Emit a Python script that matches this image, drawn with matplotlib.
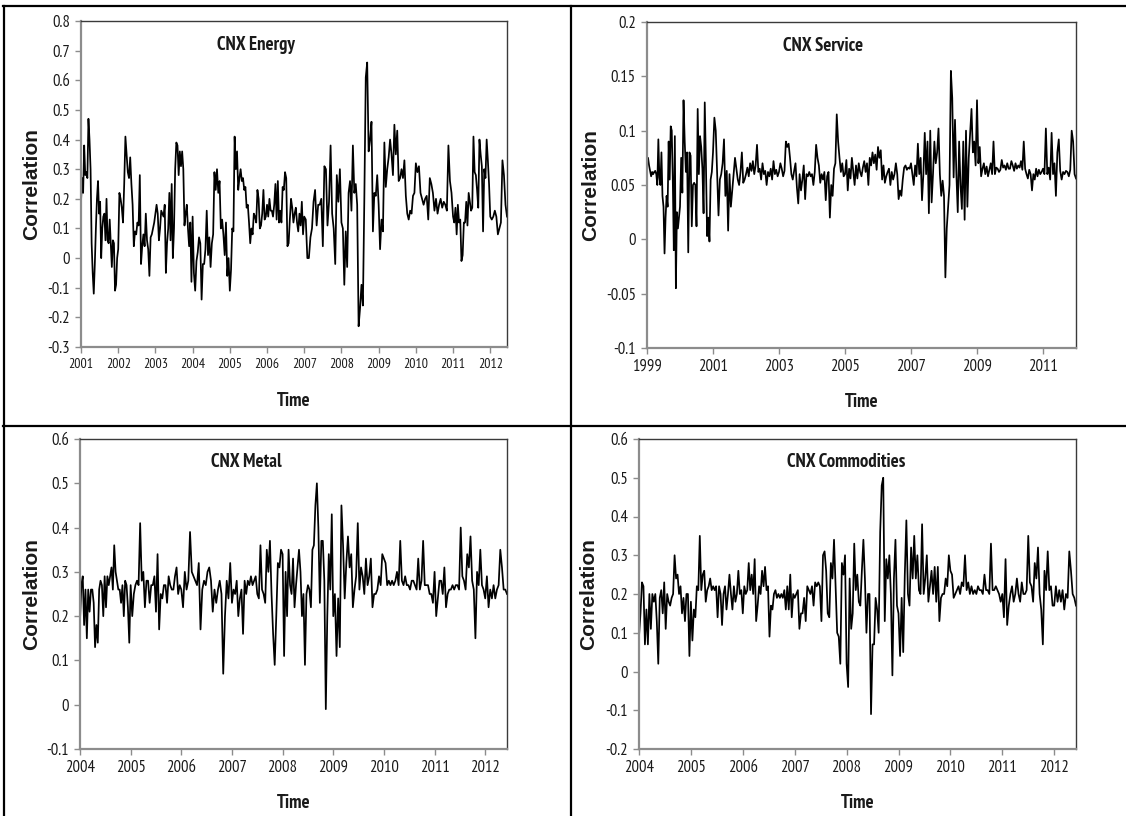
import numpy as np
import matplotlib
matplotlib.use("Agg")
import matplotlib.pyplot as plt
from matplotlib import font_manager
from matplotlib.lines import Line2D

# Fonts: the chart uses an Arial Narrow look; take a narrow family with a bold face if there is one
bold_ok = {f.name for f in font_manager.fontManager.ttflist if f.weight in (700, "bold")}
NARROW = None
for cand in ["Liberation Sans Narrow", "PT Sans Narrow", "Asap Condensed", "Encode Sans Condensed",
             "IBM Plex Sans Condensed"]:
    if cand in bold_ok:
        NARROW = cand
        break
WIDE = "Liberation Sans"
if NARROW:
    SIZES = dict(tick=12, tick_energy=10, title=13.5, xlabel=13.5)
else:
    NARROW = "Liberation Sans"
    SIZES = dict(tick=10, tick_energy=8, title=11, xlabel=11)
plt.rcParams["font.family"] = [NARROW, "DejaVu Sans"]

# ---------------- data (one list per year) ----------------
energy = [
    [0.19, 0.27, 0.22, 0.38, 0.28, 0.29, 0.27, 0.47, 0.40, 0.30, 0.05, -0.05, -0.12, -0.02, 0.10, 0.20, 0.26, 0.15,
     0.19, 0.00, 0.10, 0.14, 0.15, 0.06, 0.20, 0.06, 0.05, 0.13, 0.05, -0.03, 0.06, 0.05, -0.11, -0.09, 0.00],
    [0.03, 0.22, 0.20, 0.17, 0.12, 0.25, 0.41, 0.35, 0.29, 0.27, 0.34, 0.25, 0.18, 0.04, 0.09, 0.08, 0.12, 0.11,
     0.28, -0.02, 0.04, 0.08, 0.04, 0.15, 0.06, 0.03, -0.06, 0.07, 0.08, 0.10, 0.12],
    [0.15, 0.18, 0.15, 0.06, 0.10, 0.16, 0.15, 0.14, 0.18, -0.05, 0.05, 0.10, 0.22, 0.06, 0.25, 0.00, 0.10, 0.30,
     0.39, 0.38, 0.28, 0.36, 0.31, 0.36, 0.30, 0.11, 0.15, 0.18, 0.10, 0.04, 0.12, -0.08],
    [0.14, -0.05, -0.11, -0.01, 0.02, 0.07, 0.05, -0.14, -0.02, -0.02, 0.03, 0.16, 0.01, 0.07, -0.03, 0.05, 0.08,
     0.29, 0.23, 0.30, 0.22, 0.26, 0.10, 0.13, 0.08, 0.01, 0.12, -0.06, 0.00],
    [-0.11, -0.04, 0.10, 0.09, 0.41, 0.30, 0.36, 0.23, 0.27, 0.30, 0.26, 0.27, 0.23, 0.24, 0.17, 0.18, 0.12, 0.05,
     0.10, 0.08, 0.15, 0.14, 0.12, 0.23, 0.20, 0.10, 0.11, 0.15, 0.23, 0.13, 0.14],
    [0.18, 0.14, 0.20, 0.16, 0.16, 0.14, 0.18, 0.25, 0.13, 0.26, 0.12, 0.16, 0.12, 0.24, 0.23, 0.29, 0.27, 0.04,
     0.05, 0.13, 0.20, 0.17, 0.12, 0.15, 0.17, 0.12, 0.09, 0.15, 0.11, 0.19, 0.08],
    [0.14, 0.13, 0.00, 0.00, 0.07, 0.10, 0.19, 0.23, 0.11, 0.18, 0.18, 0.20, 0.04, 0.31, 0.30, 0.11, 0.19, 0.38,
     0.15, 0.10, -0.02, 0.28, 0.19, 0.30],
    [0.12, 0.10, -0.09, 0.09, -0.03, 0.22, 0.26, 0.16, 0.38, 0.22, 0.25, 0.18, -0.23, -0.17, -0.09, -0.16, 0.20,
     0.61, 0.66, 0.36, 0.40, 0.46, 0.09, 0.22, 0.21, 0.28],
    [0.18, 0.03, 0.13, 0.09, 0.39, 0.24, 0.30, 0.34, 0.40, 0.35, 0.28, 0.45, 0.35, 0.43, 0.26, 0.27, 0.30, 0.27,
     0.33, 0.21, 0.15, 0.13, 0.16, 0.15, 0.21, 0.22],
    [0.32, 0.29, 0.31, 0.22, 0.20, 0.18, 0.20, 0.21, 0.13, 0.27, 0.25, 0.22, 0.16, 0.20, 0.15, 0.18, 0.20, 0.17,
     0.19, 0.18, 0.16, 0.38, 0.26, 0.22],
    [0.14, 0.12, 0.17, 0.08, 0.18, 0.12, 0.13, -0.01, 0.01, 0.12, 0.12, 0.19, 0.11, 0.22, 0.19, 0.16, 0.17, 0.41,
     0.29, 0.28, 0.23, 0.17, 0.40, 0.35, 0.31, 0.09, 0.30, 0.27, 0.40, 0.33, 0.25],
    [0.14, 0.13, 0.14, 0.16, 0.14, 0.08, 0.10, 0.12, 0.33, 0.28, 0.18, 0.14],
]

service = [
    [0.070, 0.075, 0.068, 0.063, 0.058, 0.062, 0.060, 0.062, 0.063, 0.060, 0.050, 0.092, 0.057, 0.050, 0.080, 0.040,
     0.030, -0.013, 0.020, 0.040, 0.030, 0.090, 0.055, 0.104, 0.100, 0.055, -0.010, 0.095, -0.045, 0.025, 0.010, 0.020],
    [0.030, 0.075, 0.043, 0.128, 0.090, 0.062, 0.080, -0.012, 0.080, 0.077, 0.012, 0.050, 0.052, 0.050, 0.012, 0.120,
     0.060, 0.095, 0.085, 0.065, 0.024, 0.126, 0.070, 0.003, 0.020, -0.002, 0.055, 0.062],
    [0.080, 0.112, 0.100, 0.060, 0.022, 0.055, 0.060, 0.070, 0.092, 0.040, 0.063, 0.008, 0.060, 0.030, 0.045, 0.060,
     0.075, 0.065, 0.055, 0.050, 0.062, 0.080, 0.052, 0.055],
    [0.060, 0.066, 0.058, 0.070, 0.063, 0.072, 0.060, 0.068, 0.087, 0.062, 0.065, 0.055, 0.070, 0.060, 0.063, 0.050,
     0.062, 0.058, 0.065, 0.055, 0.072, 0.060, 0.064, 0.058],
    [0.062, 0.070, 0.065, 0.058, 0.063, 0.090, 0.085, 0.088, 0.075, 0.060, 0.055, 0.063, 0.070, 0.048, 0.033, 0.060,
     0.045, 0.055, 0.068, 0.037, 0.060, 0.058, 0.062, 0.058],
    [0.060, 0.050, 0.062, 0.087, 0.075, 0.068, 0.052, 0.060, 0.055, 0.062, 0.036, 0.058, 0.062, 0.020, 0.050, 0.040,
     0.065, 0.070, 0.115, 0.090, 0.075, 0.062, 0.070, 0.058],
    [0.060, 0.073, 0.045, 0.065, 0.056, 0.075, 0.062, 0.050, 0.068, 0.056, 0.070, 0.062, 0.058, 0.066, 0.072, 0.062,
     0.070, 0.050, 0.075, 0.068, 0.080, 0.070, 0.078, 0.064],
    [0.085, 0.075, 0.082, 0.055, 0.068, 0.052, 0.058, 0.062, 0.065, 0.050, 0.062, 0.055, 0.060, 0.070, 0.060, 0.037,
     0.045, 0.040, 0.055, 0.066, 0.068, 0.064, 0.066, 0.065],
    [0.070, 0.060, 0.050, 0.068, 0.058, 0.088, 0.060, 0.075, 0.036, 0.060, 0.098, 0.060, 0.090, 0.024, 0.100, 0.034,
     0.060, 0.090, 0.070, 0.080, 0.102, 0.060, 0.040, 0.054],
    [0.040, -0.035, 0.010, 0.030, 0.050, 0.155, 0.130, 0.057, 0.110, 0.060, 0.025, 0.090, 0.050, 0.028, 0.090, 0.018,
     0.100, 0.030, 0.075, 0.098, 0.120, 0.080, 0.090, 0.068],
    [0.128, 0.070, 0.085, 0.058, 0.065, 0.070, 0.060, 0.067, 0.058, 0.064, 0.070, 0.060, 0.090, 0.060, 0.066, 0.065,
     0.062, 0.064, 0.073, 0.066, 0.068, 0.064, 0.070, 0.065],
    [0.065, 0.072, 0.068, 0.063, 0.070, 0.065, 0.068, 0.066, 0.072, 0.064, 0.090, 0.065, 0.060, 0.056, 0.064, 0.060,
     0.045, 0.060, 0.055, 0.065, 0.058, 0.064, 0.060, 0.062],
    [0.065, 0.060, 0.102, 0.060, 0.066, 0.055, 0.098, 0.060, 0.070, 0.040, 0.080, 0.092, 0.063, 0.055, 0.062, 0.060,
     0.063, 0.062, 0.058, 0.064, 0.100, 0.090, 0.060, 0.056],
]

metal = [
    [0.19, 0.27, 0.29, 0.18, 0.26, 0.15, 0.26, 0.21, 0.26, 0.26, 0.23, 0.13, 0.18, 0.14, 0.26, 0.28, 0.27, 0.20,
     0.29, 0.22, 0.29, 0.27, 0.29, 0.31, 0.26, 0.36, 0.30, 0.28, 0.26, 0.26, 0.23, 0.27, 0.20, 0.28, 0.27, 0.22, 0.14],
    [0.27, 0.20, 0.25, 0.27, 0.28, 0.27, 0.41, 0.28, 0.30, 0.22, 0.28, 0.28, 0.23, 0.27, 0.27, 0.29, 0.21, 0.34,
     0.17, 0.25, 0.24, 0.27, 0.27, 0.23, 0.29, 0.27, 0.26, 0.26, 0.29, 0.31, 0.25, 0.27],
    [0.26, 0.22, 0.30, 0.26, 0.28, 0.39, 0.30, 0.29, 0.28, 0.27, 0.32, 0.17, 0.26, 0.28, 0.27, 0.30, 0.31, 0.28,
     0.21, 0.26, 0.23, 0.26, 0.28, 0.25, 0.07, 0.20, 0.28, 0.24, 0.32],
    [0.23, 0.26, 0.25, 0.28, 0.20, 0.24, 0.26, 0.16, 0.28, 0.25, 0.28, 0.27, 0.29, 0.27, 0.28, 0.29, 0.25, 0.24,
     0.36, 0.26, 0.25, 0.23, 0.35, 0.30, 0.37, 0.25, 0.16, 0.09, 0.20, 0.32, 0.31, 0.35],
    [0.34, 0.11, 0.30, 0.20, 0.35, 0.27, 0.25, 0.33, 0.22, 0.27, 0.31, 0.35, 0.30, 0.20, 0.25, 0.09, 0.25, 0.27,
     0.26, 0.22, 0.35, 0.36, 0.45, 0.50, 0.40, 0.23, 0.37, 0.37, 0.28, -0.01, 0.20, 0.34, 0.26, 0.43],
    [0.20, 0.25, 0.11, 0.24, 0.13, 0.45, 0.36, 0.24, 0.32, 0.38, 0.31, 0.34, 0.22, 0.26, 0.29, 0.41, 0.26, 0.31,
     0.29, 0.25, 0.33, 0.27, 0.29, 0.33, 0.22, 0.25, 0.25, 0.26, 0.29, 0.27, 0.34],
    [0.33, 0.32, 0.27, 0.28, 0.27, 0.28, 0.27, 0.28, 0.30, 0.27, 0.37, 0.28, 0.27, 0.29, 0.27, 0.27, 0.26, 0.28,
     0.28, 0.27, 0.26, 0.33, 0.26, 0.28, 0.37, 0.27, 0.27, 0.27, 0.25, 0.25, 0.23],
    [0.30, 0.20, 0.24, 0.28, 0.28, 0.25, 0.31, 0.22, 0.25, 0.26, 0.26, 0.27, 0.26, 0.27, 0.27, 0.26, 0.40, 0.29,
     0.28, 0.26, 0.34, 0.31, 0.38, 0.28, 0.26, 0.15, 0.30, 0.27, 0.35, 0.27, 0.26],
    [0.24, 0.29, 0.22, 0.26, 0.24, 0.27, 0.24, 0.26, 0.27, 0.35, 0.31, 0.26, 0.26, 0.25],
]

commodities = [
    [0.09, 0.15, 0.23, 0.22, 0.07, 0.16, 0.07, 0.20, 0.11, 0.20, 0.18, 0.20, 0.13, 0.02, 0.19, 0.21, 0.15, 0.23,
     0.11, 0.20, 0.18, 0.17, 0.19, 0.20, 0.30, 0.24, 0.25, 0.20, 0.22, 0.15, 0.19, 0.13, 0.20, 0.20, 0.04],
    [0.18, 0.08, 0.16, 0.14, 0.22, 0.21, 0.35, 0.21, 0.25, 0.26, 0.18, 0.21, 0.22, 0.24, 0.21, 0.22, 0.21, 0.22,
     0.14, 0.22, 0.20, 0.12, 0.20, 0.22, 0.16, 0.20, 0.25, 0.20, 0.16, 0.22, 0.18, 0.20, 0.26, 0.20, 0.21],
    [0.15, 0.22, 0.20, 0.21, 0.28, 0.21, 0.25, 0.20, 0.29, 0.13, 0.17, 0.22, 0.20, 0.26, 0.22, 0.27, 0.21, 0.22,
     0.09, 0.17, 0.16, 0.20, 0.21, 0.19, 0.20, 0.19, 0.20, 0.19, 0.21, 0.16, 0.22, 0.16, 0.25, 0.14, 0.20],
    [0.19, 0.20, 0.21, 0.11, 0.15, 0.15, 0.19, 0.13, 0.22, 0.21, 0.20, 0.22, 0.17, 0.23, 0.22, 0.23, 0.22, 0.13,
     0.30, 0.31, 0.26, 0.15, 0.14, 0.28, 0.24, 0.34, 0.22, 0.10, 0.09, 0.02, 0.28, 0.25, 0.30],
    [0.02, -0.04, 0.24, 0.11, 0.15, 0.33, 0.21, 0.25, 0.18, 0.17, 0.26, 0.34, 0.24, 0.10, 0.20, 0.20, -0.11, 0.07,
     0.07, 0.19, 0.16, 0.10, 0.36, 0.48, 0.50, 0.13, 0.29, 0.24, 0.30, 0.20, -0.01, 0.24, 0.34, 0.17],
    [0.15, 0.04, 0.19, 0.05, 0.25, 0.39, 0.20, 0.17, 0.32, 0.24, 0.35, 0.24, 0.30, 0.21, 0.20, 0.38, 0.20, 0.24,
     0.30, 0.18, 0.22, 0.26, 0.20, 0.27, 0.18, 0.27, 0.13, 0.19, 0.20, 0.20, 0.24, 0.22, 0.30],
    [0.26, 0.25, 0.19, 0.20, 0.21, 0.22, 0.20, 0.23, 0.22, 0.30, 0.21, 0.23, 0.20, 0.22, 0.20, 0.21, 0.20, 0.22,
     0.21, 0.21, 0.20, 0.25, 0.21, 0.21, 0.20, 0.33, 0.21, 0.21, 0.22, 0.21, 0.20, 0.18],
    [0.20, 0.14, 0.29, 0.12, 0.17, 0.20, 0.22, 0.18, 0.20, 0.24, 0.20, 0.18, 0.23, 0.20, 0.20, 0.21, 0.35, 0.23,
     0.22, 0.18, 0.28, 0.24, 0.32, 0.20, 0.16, 0.07, 0.26, 0.21, 0.31, 0.21, 0.22, 0.17],
    [0.17, 0.22, 0.18, 0.21, 0.18, 0.21, 0.16, 0.20, 0.19, 0.31, 0.26, 0.20, 0.19, 0.17],
]

titles = ["CNX Energy", "CNX Service", "CNX Metal", "CNX Commodities"]
first_years = [2001, 1999, 2004, 2004]
last_dates = [2012.45, 2012.0, 2012.43, 2012.42]
xtick_years = [list(range(2001, 2013)), list(range(1999, 2013, 2)), list(range(2004, 2013)), list(range(2004, 2013))]
yticks_all = [
    [-0.3, -0.2, -0.1, 0, 0.1, 0.2, 0.3, 0.4, 0.5, 0.6, 0.7, 0.8],
    [-0.1, -0.05, 0, 0.05, 0.1, 0.15, 0.2],
    [-0.1, 0, 0.1, 0.2, 0.3, 0.4, 0.5, 0.6],
    [-0.2, -0.1, 0, 0.1, 0.2, 0.3, 0.4, 0.5, 0.6],
]


def year_positions(first, per_year, end):
    xs = []
    for i, vals in enumerate(per_year[:-1]):
        n = len(vals)
        xs.append(first + i + np.arange(n) / n)
    last = first + len(per_year) - 1
    xs.append(np.linspace(last, end, len(per_year[-1])))
    return np.concatenate(xs)


# ---------------- figure ----------------
W, H = 1126, 816
fig = plt.figure(figsize=(W / 100, H / 100), dpi=100)

# plot-area boxes in pixels: left, top, right, bottom
boxes = [(81, 21, 507, 347), (647, 22, 1076, 348), (80, 439, 507, 749), (639, 439, 1076, 749)]
title_x = [0.41, 0.41, 0.39, 0.474]
ylabel_gap = [40, 47, 39, 41]   # px between axis and the right side of the rotated label
xlabel_gap = [45, 45, 45, 45]   # px between axis and the top of "Time"
series = [energy, service, metal, commodities]

for k in range(4):
    l, t, r, b = boxes[k]
    ax = fig.add_axes([l / W, 1 - b / H, (r - l) / W, (b - t) / H])
    vals = np.concatenate(series[k])
    xs = year_positions(first_years[k], series[k], last_dates[k])
    ax.plot(xs, vals, color="black", lw=1.25)

    ax.set_xlim(first_years[k], last_dates[k])
    ax.set_ylim(yticks_all[k][0], yticks_all[k][-1])
    ax.set_xticks(xtick_years[k])
    ax.set_xticklabels([str(y) for y in xtick_years[k]],
                       fontsize=SIZES["tick_energy"] if k == 0 else SIZES["tick"])
    ax.set_yticks(yticks_all[k])
    ax.set_yticklabels([f"{v:g}" for v in yticks_all[k]], fontsize=SIZES["tick"])
    ax.tick_params(direction="out", length=4, width=1, color="#8c8c8c", pad=4, labelcolor="#1a1a1a")

    for side in ["left", "bottom"]:
        ax.spines[side].set_color("#8c8c8c")
        ax.spines[side].set_linewidth(1.6)
    for side in ["top", "right"]:
        ax.spines[side].set_color("#3a3a3a")
        ax.spines[side].set_linewidth(1.0)

    ax.text(title_x[k], 0.925, titles[k], transform=ax.transAxes, ha="center", va="center",
            fontsize=SIZES["title"], fontweight="bold", color="#1a1a1a")

    ax.set_ylabel("Correlation", fontsize=15, fontweight="bold", family=[WIDE, "DejaVu Sans"], color="#1a1a1a")
    ax.yaxis.set_label_coords(-ylabel_gap[k] / (r - l), 0.5)
    ax.set_xlabel("Time", fontsize=SIZES["xlabel"], fontweight="bold", color="#1a1a1a")
    ax.xaxis.set_label_coords(0.5, -xlabel_gap[k] / (b - t))


# table borders around the four charts
def hline(y, x0, x1):
    fig.add_artist(Line2D([x0 / W, x1 / W], [1 - y / H, 1 - y / H], color="black", lw=1.6))


def vline(x, y0, y1):
    fig.add_artist(Line2D([x / W, x / W], [1 - y0 / H, 1 - y1 / H], color="black", lw=1.6))


hline(6, 3, W)
hline(426, 3, W)
vline(3.5, 6, H)
vline(571, 6, H)

fig.savefig("out.png", dpi=100)
